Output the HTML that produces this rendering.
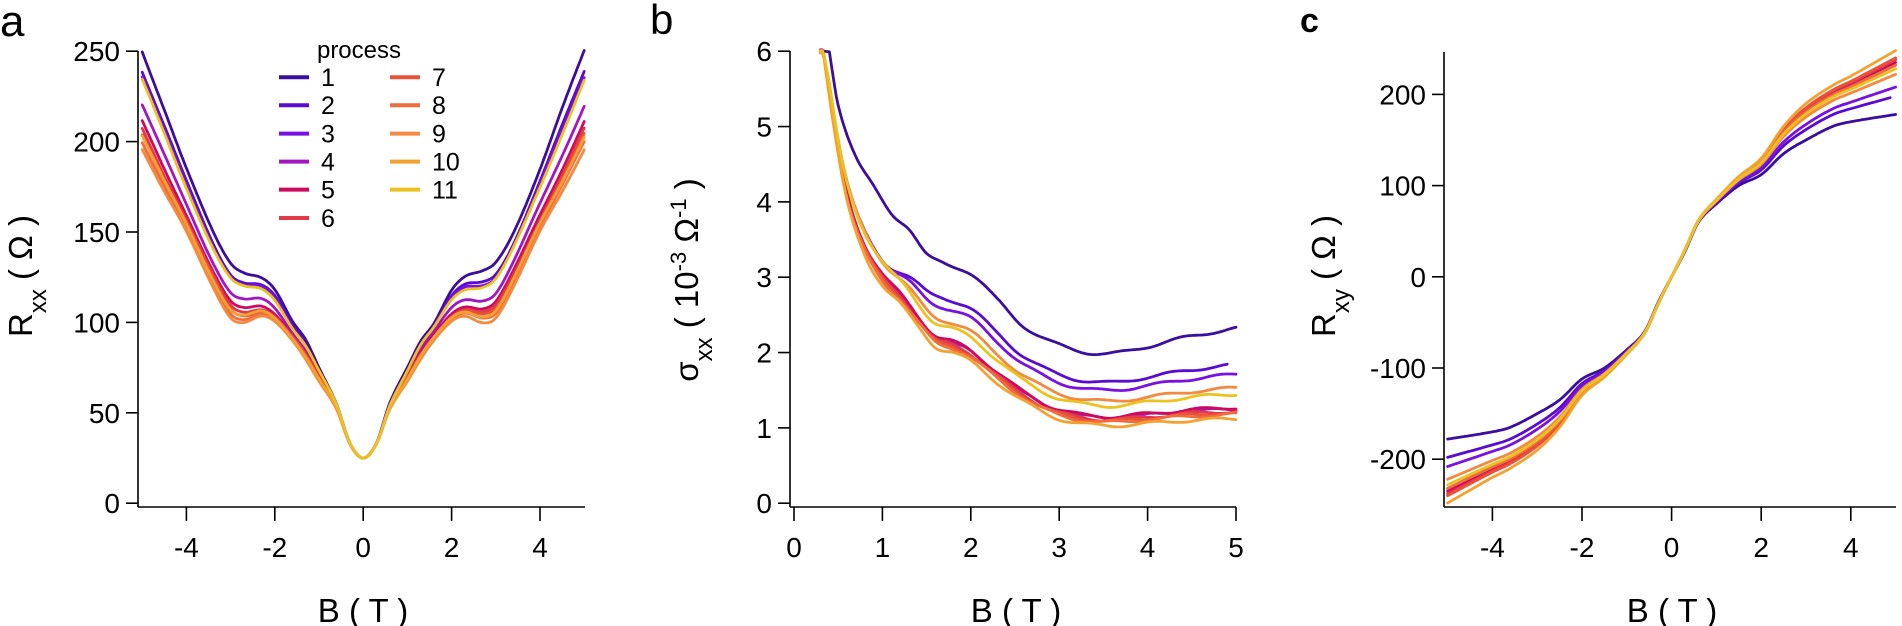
<!DOCTYPE html>
<html><head><meta charset="utf-8"><style>
html,body{margin:0;padding:0;background:#fff;}
svg{display:block;font-family:"Liberation Sans",Arial,sans-serif;}
</style></head><body>
<svg id="s" width="1902" height="626" viewBox="0 0 1902 626" xmlns="http://www.w3.org/2000/svg">
<g fill="#000" font-size="28">
<text x="0" y="36" font-size="44">a</text>
<text x="650" y="34" font-size="42">b</text>
<text x="1300" y="32" font-size="34" font-weight="bold">c</text>
</g>
<g id="axes" stroke="#000" stroke-width="1.6" fill="none"></g>
<g id="labels" fill="#000" font-size="28"></g>
<g id="curves" fill="none" stroke-width="2.8" stroke-linejoin="round" stroke-linecap="round"></g>
<g id="legend"></g>
</svg>
<script>
const NS="http://www.w3.org/2000/svg";
function el(p,t,a,txt){const e=document.createElementNS(NS,t);for(const k in a)e.setAttribute(k,a[k]);if(txt!==undefined)e.textContent=txt;document.getElementById(p).appendChild(e);return e;}
const cols=["#3b0f9e","#5a0bd0","#7812e0","#a317c2","#cc0b5e","#e23a48","#e9523a","#ef6d3c","#f28a42","#f3a232","#ebc220"];

function axes(o){
  el("axes","line",{x1:o.ax,y1:o.yTop,x2:o.ax,y2:507});
  el("axes","line",{x1:o.ax,y1:507,x2:o.xEnd,y2:507});
  o.yt.forEach(v=>{const y=o.Y(v);el("axes","line",{x1:o.ax-12,y1:y,x2:o.ax,y2:y});
    el("labels","text",{x:o.ax-18,y:y+10,"text-anchor":"end"},v);});
  o.xt.forEach(v=>{const x=o.X(v);el("axes","line",{x1:x,y1:507,x2:x,y2:521});
    el("labels","text",{x:x,y:557,"text-anchor":"middle"},v);});
  el("labels","text",{x:o.xl,y:622,"text-anchor":"middle","font-size":"33"},"B ( T )");
}
function interp(A,x){
  let n=A.length;if(x<=A[0][0])return A[0][1];if(x>=A[n-1][0])return A[n-1][1];
  let i=0;while(A[i+1][0]<x)i++;
  const p0=A[Math.max(i-1,0)],p1=A[i],p2=A[i+1],p3=A[Math.min(i+2,n-1)];
  const h=p2[0]-p1[0],t=(x-p1[0])/h;
  let m1=(p2[1]-p0[1])/(p2[0]-p0[0])*h,m2=(p3[1]-p1[1])/(p3[0]-p1[0])*h;
  const t2=t*t,t3=t2*t;
  return (2*t3-3*t2+1)*p1[1]+(t3-2*t2+t)*m1+(-2*t3+3*t2)*p2[1]+(t3-t2)*m2;
}
function path(pts,col){el("curves","path",{d:"M"+pts.map(p=>p[0].toFixed(1)+","+p[1].toFixed(1)).join("L"),stroke:col});}

// Panel a
const aX=B=>363.2+B*44.2, aY=v=>503.2-v*1.808;
axes({ax:138,yTop:51,xEnd:585,X:aX,Y:aY,yt:[0,50,100,150,200,250],xt:[-4,-2,0,2,4],xl:363});
const a1=[[-0.3,33],[0,25],[0.3,33],[0.6,55],[1.0,75],[1.3,90],[1.6,100],[2.0,118],[2.3,125],[2.7,128],[3.0,133],[3.4,150],[4.0,185],[4.5,218],[5,250]];
const a9=[[-0.3,33],[0,25],[0.3,33],[0.6,52],[1.0,68],[1.3,80],[1.6,90],[2.0,100],[2.3,103],[2.7,100],[3.0,103],[3.4,120],[4.0,150],[4.5,172],[5,196]];
const aEnd=[250,239,236,220,211,207,204,200,196,203,234];
aEnd.forEach((e,k)=>{const t=(250-e)/54;const pts=[];
  for(let B=-5;B<=5.001;B+=0.04){const b=Math.abs(B);const v=(1-t)*interp(a1,b)+t*interp(a9,b)+0.6*Math.sin(B*3+k)*Math.min(1,b);pts.push([aX(B),aY(v)]);}
  path(pts,cols[k]);});

// Panel b
const bX=B=>794+B*88.4, bY=v=>503.2-v*75.33;
axes({ax:790,yTop:51,xEnd:1236,X:bX,Y:bY,yt:[0,1,2,3,4,5,6],xt:[0,1,2,3,4,5],xl:1016});
const b1=[[0.4,6],[0.5,5.3],[0.7,4.6],[0.9,4.2],[1.1,3.85],[1.3,3.65],[1.5,3.3],[1.7,3.18],[2.0,3.05],[2.3,2.7],[2.6,2.35],[3.0,2.1],[3.5,1.98],[4.0,2.08],[4.5,2.22],[5,2.32]];
const bL=[[0.33,6],[0.45,5.0],[0.6,4.0],[0.8,3.3],[1.0,2.9],[1.2,2.65],[1.4,2.35],[1.6,2.08],[1.8,2.0],[2.0,1.88],[2.3,1.6],[2.6,1.35],[3.0,1.12],[3.5,1.03],[4.0,1.06],[4.5,1.1],[5,1.12]];
const bEnd=[2.32,1.84,1.71,1.25,1.27,1.22,1.2,1.18,1.53,1.12,1.45];
bEnd.forEach((e,k)=>{let t=(2.32-e)/1.2;const pts=[];const xmax=(k==1)?4.9:5;
  for(let B=0.3;B<=xmax+0.001;B+=0.02){
    let w=B<=0.9?1:(B>=1.7?0:0.5+0.5*Math.cos(Math.PI*(B-0.9)/0.8));
    let tt=k>0?t+Math.max(0,0.72-t)*w:t;
    const x0=interp(b1,B)*(1-tt)+interp(bL,B)*tt;
    const v=x0+0.02*Math.sin(B*9+k);
    if(v>6.02)continue;pts.push([bX(B),bY(v)]);}
  path(pts,cols[k]);});

// Panel c
const cX=B=>1671.6+B*44.8, cY=v=>276.8-v*0.912;
axes({ax:1444,yTop:52,xEnd:1896,X:cX,Y:cY,yt:[-200,-100,0,100,200],xt:[-4,-2,0,2,4],xl:1672});
const c1=[[-0.3,-28],[0,0],[0.3,28],[0.6,60],[1.0,80],[1.5,100],[2.0,112],[2.5,135],[3.0,150],[3.6,165],[4.0,170],[5,178]];
const cT=[[-0.3,-30],[0,0],[0.3,30],[0.6,62],[1.0,85],[1.5,110],[2.0,130],[2.5,165],[3.0,190],[3.6,210],[4.0,220],[5,248]];
const cEnd=[178,198,208,232,235,238,240,232,222,248,228];
cEnd.forEach((e,k)=>{const t=(e-178)/70;const pts=[];const xmax=(k==1)?4.9:5;
  for(let B=-5;B<=xmax+0.001;B+=0.04){const b=Math.abs(B);const v=Math.sign(B)*((1-t)*interp(c1,b)+t*interp(cT,b));pts.push([cX(B),cY(v)]);}
  path(pts,cols[k]);});

function ylab(x,y,parts){const t=el("labels","text",{transform:`translate(${x},${y}) rotate(-90)`,"text-anchor":"middle","font-size":"33"});
  parts.forEach(p=>{const s=document.createElementNS(NS,"tspan");s.textContent=p[0];if(p[1])s.setAttribute("baseline-shift",p[1]);if(p[2])s.setAttribute("font-size",p[2]);t.appendChild(s);});}
ylab(32,276,[["R"],["xx","sub","24"],[" ( Ω )"]]);
ylab(698,280,[["σ"],["xx","sub","24"],[" ( 10"],["-3","super","22"],[" Ω"],["-1","super","22"],[" )"]]);
ylab(1335,276,[["R"],["xy","sub","24"],[" ( Ω )"]]);

el("legend","text",{x:359,y:58,"text-anchor":"middle","font-size":"24"},"process");
const rows=[77.2,105.2,133.6,161.6,189.6,218];
cols.forEach((c,k)=>{const col=k<6?0:1,r=k<6?k:k-6;const y=rows[r];const x1=col?390:279;
  el("legend","line",{x1:x1,y1:y,x2:x1+30,y2:y,stroke:c,"stroke-width":"4"});
  el("legend","text",{x:x1+42,y:y+9,"font-size":"25"},k+1);});
</script>
</body></html>
